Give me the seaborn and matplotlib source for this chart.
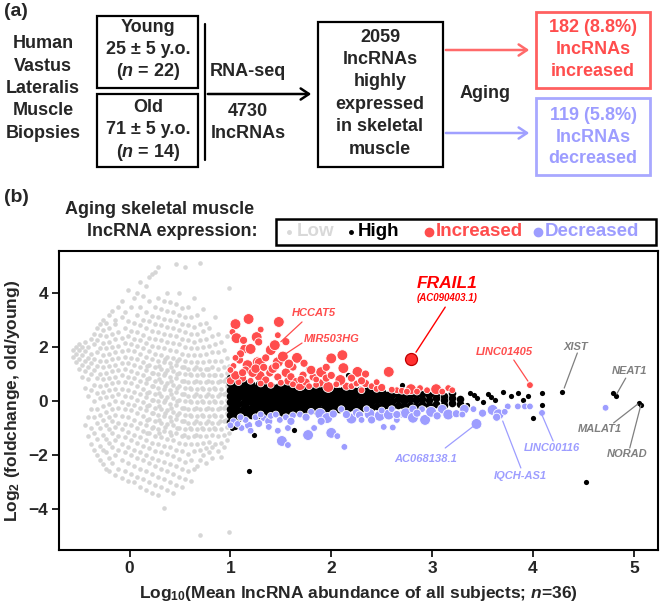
import numpy as np
import pandas as pd
import seaborn as sns
import matplotlib.pyplot as plt
from matplotlib.patches import Rectangle, FancyArrowPatch
from matplotlib.lines import Line2D

W, H = 661, 611

# ---- data ----
# low-expression lncRNAs, one x per column with the y values seen there
low_cols_x = [-0.56, -0.53, -0.50, -0.47, -0.44, -0.41, -0.38, -0.35, -0.32, -0.29,
              -0.26, -0.23, -0.20, -0.17, -0.14, -0.11, -0.08, -0.05, -0.02, 0.01,
              0.04, 0.07, 0.10, 0.13, 0.16, 0.19, 0.22, 0.25, 0.28, 0.31,
              0.34, 0.37, 0.40, 0.43, 0.46, 0.49, 0.52, 0.55, 0.58, 0.61,
              0.64, 0.67, 0.70, 0.73, 0.76, 0.79, 0.82, 0.85, 0.88, 0.91,
              0.94, 0.97, 0.99,
              # denser core of the cloud
              0.175, 0.235, 0.295, 0.355, 0.415, 0.475, 0.535, 0.595, 0.655,
              0.715, 0.775, 0.835, 0.895, 0.955]
low_cols_y = [
    [1.62, 1.88], [1.45, 1.75, 2.02], [1.2, 1.55, 1.9, 2.1], [0.9, 1.35, 1.7, 2.0],
    [-0.9, 0.5, 1.1, 1.5, 1.85, 2.2],
    [-1.3, -0.6, 0.2, 0.8, 1.25, 1.6, 2.0],
    [-1.6, -1.0, -0.3, 0.4, 1.0, 1.4, 1.75, 2.3],
    [-1.8, -1.2, -0.6, 0.0, 0.6, 1.15, 1.55, 2.1, 2.5],
    [-2.0, -1.4, -0.8, -0.3, 0.3, 0.85, 1.3, 1.8, 2.25, 2.7],
    [-2.2, -1.65, -1.0, -0.5, 0.1, 0.55, 1.0, 1.5, 1.95, 2.45, 2.85],
    [-2.35, -1.8, -1.25, -0.7, -0.2, 0.35, 0.8, 1.25, 1.7, 2.15, 2.65, 3.0],
    [-2.5, -1.9, -1.4, -0.9, -0.4, 0.15, 0.6, 1.05, 1.5, 1.95, 2.4, 2.9],
    [-2.6, -2.1, -1.55, -1.05, -0.6, -0.1, 0.4, 0.85, 1.3, 1.75, 2.2, 2.7, 3.2],
    [-2.3, -1.7, -1.2, -0.75, -0.3, 0.2, 0.65, 1.1, 1.55, 2.0, 2.5, 3.35],
    [-2.75, -2.0, -1.45, -0.95, -0.5, 0.0, 0.45, 0.9, 1.35, 1.8, 2.3, 2.85, 3.0],
    [-2.5, -1.8, -1.3, -0.8, -0.25, 0.25, 0.7, 1.15, 1.6, 2.05, 2.55, 3.5],
    [-2.85, -2.2, -1.6, -1.05, -0.55, -0.05, 0.45, 0.95, 1.4, 1.85, 2.35, 3.1, 3.7],
    [-2.6, -1.9, -1.35, -0.85, -0.3, 0.2, 0.7, 1.2, 1.65, 2.15, 2.7, 3.3],
    [-2.95, -2.3, -1.7, -1.15, -0.6, -0.1, 0.4, 0.9, 1.4, 1.9, 2.4, 2.95, 4.1],
    [-2.7, -2.0, -1.45, -0.9, -0.35, 0.15, 0.65, 1.1, 1.6, 2.1, 2.6, 3.5],
    [-3.0, -2.4, -1.8, -1.25, -0.7, -0.15, 0.35, 0.85, 1.35, 1.85, 2.3, 2.9, 3.8],
    [-2.8, -2.1, -1.55, -1.0, -0.45, 0.05, 0.55, 1.05, 1.55, 2.05, 2.55, 3.2, 4.0],
    [-3.2, -2.5, -1.9, -1.35, -0.8, -0.25, 0.25, 0.75, 1.25, 1.75, 2.25, 2.8, 3.5, 4.4],
    [-2.9, -2.2, -1.65, -1.1, -0.55, -0.05, 0.45, 0.95, 1.45, 1.95, 2.45, 3.0, 3.9],
    [-3.3, -2.6, -2.0, -1.45, -0.9, -0.35, 0.15, 0.65, 1.15, 1.65, 2.15, 2.7, 3.3, 4.25],
    [-3.0, -2.3, -1.75, -1.2, -0.65, -0.15, 0.35, 0.85, 1.35, 1.85, 2.35, 2.95, 3.7, 4.6],
    [-3.4, -2.7, -2.1, -1.55, -1.0, -0.45, 0.05, 0.55, 1.05, 1.55, 2.05, 2.6, 3.15, 4.7],
    [-3.1, -2.4, -1.85, -1.3, -0.75, -0.25, 0.25, 0.75, 1.25, 1.75, 2.3, 2.85, 3.5, 4.8],
    [-3.5, -2.8, -2.2, -1.6, -1.05, -0.5, 0.0, 0.5, 1.0, 1.5, 2.0, 2.55, 3.1, 3.8, 4.95],
    [-3.2, -2.5, -1.9, -1.35, -0.8, -0.3, 0.2, 0.7, 1.2, 1.7, 2.25, 2.8, 3.4],
    [-3.95, -2.9, -2.25, -1.65, -1.1, -0.55, -0.05, 0.45, 0.95, 1.45, 1.95, 2.5, 3.05, 3.7],
    [-3.3, -2.6, -1.95, -1.4, -0.85, -0.35, 0.15, 0.65, 1.15, 1.65, 2.2, 2.75, 3.35, 4.0],
    [-3.0, -2.35, -1.7, -1.15, -0.6, -0.1, 0.4, 0.9, 1.4, 1.9, 2.45, 3.0, 3.67],
    [-3.4, -2.7, -2.05, -1.45, -0.9, -0.4, 0.1, 0.6, 1.1, 1.6, 2.15, 2.7, 3.3],
    [-3.1, -2.4, -1.8, -1.2, -0.65, -0.15, 0.35, 0.85, 1.35, 1.85, 2.4, 2.95, 3.6, 5.07],
    [-2.8, -2.15, -1.55, -1.0, -0.45, 0.05, 0.55, 1.05, 1.55, 2.1, 2.65, 3.2, 4.0],
    [-3.2, -2.5, -1.85, -1.3, -0.75, -0.25, 0.25, 0.75, 1.25, 1.75, 2.3, 2.85, 3.45],
    [-2.9, -2.25, -1.6, -1.05, -0.5, 0.0, 0.5, 1.0, 1.5, 2.0, 2.55, 3.1, 4.96],
    [-2.6, -1.95, -1.35, -0.8, -0.3, 0.2, 0.7, 1.2, 1.7, 2.25, 2.8, 3.5],
    [-2.95, -2.2, -1.6, -1.05, -0.55, -0.05, 0.45, 0.95, 1.45, 1.95, 2.5, 3.1],
    [-2.5, -1.85, -1.3, -0.8, -0.3, 0.2, 0.7, 1.2, 1.7, 2.2, 2.75, 3.8],
    [-2.4, -1.6, -1.05, -0.55, -0.05, 0.45, 0.95, 1.45, 1.95, 2.5, 3.2],
    [-4.96, -2.2, -1.8, -1.3, -0.8, -0.3, 0.2, 0.7, 1.2, 1.7, 2.25, 2.85, 5.11],
    [-2.0, -1.55, -1.05, -0.55, -0.05, 0.45, 0.95, 1.45, 2.0, 2.6, 3.4],
    [-2.3, -1.75, -1.3, -0.8, -0.3, 0.2, 0.7, 1.2, 1.75, 2.3, 2.9],
    [-1.9, -1.5, -1.05, -0.55, -0.05, 0.45, 0.95, 1.5, 2.05, 2.7],
    [-2.1, -1.7, -1.25, -0.8, -0.3, 0.2, 0.7, 1.25, 1.8, 2.4],
    [-1.6, -1.05, -0.55, -0.05, 0.45, 0.95, 1.5, 2.1, 3.1],
    [-1.85, -1.3, -0.8, -0.3, 0.2, 0.7, 1.2, 1.8, 2.5],
    [-2.07, -1.55, -1.05, -0.55, -0.05, 0.45, 0.95, 1.5, 2.2],
    [-1.7, -1.25, -0.75, -0.25, 0.25, 0.75, 1.25, 1.9],
    [-1.45, -0.95, -0.45, 0.05, 0.55, 1.05, 1.6, 2.4],
    [-4.85, -1.2, -0.7, -0.2, 0.3, 0.8, 1.3, 4.2],
    [-1.2, -0.7, -0.2, 0.3, 0.8, 1.3],
    [-0.95, -0.45, 0.05, 0.55, 1.05],
    [-1.2, -0.7, -0.2, 0.3, 0.8, 1.3],
    [-0.95, -0.45, 0.05, 0.55, 1.05, 1.55],
    [-1.25, -0.75, -0.25, 0.25, 0.75, 1.25],
    [-1.0, -0.5, 0.0, 0.5, 1.0, 1.5],
    [-1.25, -0.75, -0.25, 0.25, 0.75, 1.25],
    [-1.0, -0.5, 0.0, 0.5, 1.0],
    [-1.25, -0.75, -0.25, 0.25, 0.75, 1.25],
    [-1.0, -0.5, 0.0, 0.5, 1.0],
    [-0.75, -0.25, 0.25, 0.75, 1.2],
    [-1.0, -0.5, 0.0, 0.5, 0.95],
    [-0.75, -0.25, 0.25, 0.75],
    [-0.7, -0.2, 0.3, 0.8],
]

# highly expressed lncRNAs (dense band), same column layout
high_cols_x = [1.00, 1.04, 1.08, 1.12, 1.16, 1.20, 1.24, 1.28, 1.32, 1.36,
               1.40, 1.44, 1.48, 1.52, 1.56, 1.60, 1.64, 1.68, 1.72, 1.76,
               1.80, 1.84, 1.88, 1.92, 1.96, 2.00, 2.04, 2.08, 2.12, 2.16,
               2.20, 2.24, 2.28, 2.32, 2.36, 2.40, 2.45, 2.50, 2.55, 2.60,
               2.66, 2.72, 2.78, 2.84, 2.90, 2.97, 3.04, 3.12, 3.20, 3.28]
high_cols_y = [
    [-0.78, -0.52, -0.28, -0.05, 0.18, 0.42, 0.65, 0.84],
    [-0.70, -0.45, -0.20, 0.03, 0.27, 0.50, 0.74],
    [-0.62, -0.38, -0.12, 0.10, 0.34, 0.57, 0.78],
    [-0.55, -0.30, -0.06, 0.18, 0.40, 0.62],
    [-0.48, -0.24, 0.00, 0.22, 0.46, 0.68],
    [-0.52, -0.28, -0.04, 0.19, 0.42, 0.63],
    [-0.44, -0.20, 0.04, 0.27, 0.50],
    [-0.50, -0.26, -0.02, 0.21, 0.44, 0.62],
    [-0.42, -0.17, 0.07, 0.30, 0.53],
    [-0.47, -0.23, 0.00, 0.24, 0.47, 0.64],
    [-0.40, -0.15, 0.09, 0.32, 0.55],
    [-0.45, -0.21, 0.03, 0.26, 0.48],
    [-0.38, -0.13, 0.11, 0.34, 0.56],
    [-0.43, -0.19, 0.05, 0.28, 0.50],
    [-0.36, -0.11, 0.13, 0.36, 0.57],
    [-0.41, -0.17, 0.07, 0.30, 0.51],
    [-0.34, -0.09, 0.15, 0.38],
    [-0.39, -0.15, 0.09, 0.31, 0.50],
    [-0.32, -0.08, 0.16, 0.38],
    [-0.37, -0.13, 0.10, 0.32, 0.52],
    [-0.30, -0.06, 0.18, 0.40],
    [-0.35, -0.11, 0.12, 0.34, 0.50],
    [-0.28, -0.04, 0.19, 0.40],
    [-0.33, -0.09, 0.14, 0.35, 0.48],
    [-0.27, -0.03, 0.20, 0.40],
    [-0.31, -0.07, 0.15, 0.36],
    [-0.25, -0.01, 0.21, 0.42],
    [-0.30, -0.06, 0.16, 0.36],
    [-0.23, 0.00, 0.22, 0.42],
    [-0.28, -0.05, 0.17, 0.37],
    [-0.22, 0.01, 0.23, 0.42],
    [-0.26, -0.03, 0.18, 0.37],
    [-0.20, 0.02, 0.24, 0.41],
    [-0.25, -0.02, 0.19, 0.36],
    [-0.19, 0.03, 0.24, 0.40],
    [-0.23, -0.01, 0.20, 0.35],
    [-0.18, 0.04, 0.25, 0.38],
    [-0.22, 0.00, 0.20, 0.34],
    [-0.16, 0.05, 0.24],
    [-0.20, 0.01, 0.21, 0.33],
    [-0.15, 0.06, 0.25],
    [-0.19, 0.02, 0.20],
    [-0.13, 0.07, 0.26],
    [-0.17, 0.03, 0.21],
    [-0.12, 0.08, 0.25],
    [-0.16, 0.04, 0.22],
    [-0.10, 0.10, 0.27],
    [-0.14, 0.05, 0.20],
    [-0.08, 0.12, 0.28],
    [-0.12, 0.06],
]
# scattered high-expression points outside the band
high_x = [3.38, 3.45, 3.50, 3.55, 3.62, 3.70, 3.78, 3.85, 3.90, 3.95, 3.35, 3.42,
          3.58, 4.09, 4.09, 4.00, 4.29, 4.79, 4.82, 5.05, 5.07, 4.53, 2.70, 1.18,
          1.23, 1.77, 2.19, 2.17, 1.02, 1.63, 1.05, 1.35, 1.95, 2.50]
high_y = [0.30, 0.10, -0.05, 0.25, 0.05, 0.32, 0.18, 0.28, 0.05, 0.20, -0.15, 0.22,
          0.15, 0.30, -0.15, -0.63, 0.35, 0.30, 0.19, -0.07, -0.15, -3.00, 0.60, -2.60,
          -1.26, 1.20, 0.93, 0.97, -1.00, -1.07, -0.95, 0.85, 0.75, 0.55]

# increased with aging (d = dot diameter class)
inc_x = [1.05, 1.18, 1.02, 1.48, 1.47, 1.26, 1.28, 1.06, 1.14, 1.20, 1.40, 1.44,
         1.47, 1.27, 1.66, 1.73, 2.00, 2.11, 2.12, 2.26, 2.34, 1.62, 1.90, 1.82,
         1.72, 1.29, 1.17, 1.09, 1.03, 1.03, 1.29, 1.39, 1.47, 1.57, 1.69, 1.75,
         1.89, 1.97, 2.10, 2.15, 2.20, 2.09, 2.25, 2.34, 2.57, 2.79, 2.88, 3.04,
         3.16, 3.97, 2.65, 2.70, 2.60, 1.10, 1.05, 1.15, 1.22, 1.12, 1.35, 1.42,
         1.55, 1.60, 1.80, 1.52, 1.35, 1.20, 1.08, 1.50, 1.65, 1.95, 2.05, 2.40,
         2.45, 2.50, 2.30, 2.85, 2.95, 3.10, 3.20, 2.75, 1.30, 1.78, 1.85, 1.13,
         1.00, 1.05, 1.12, 1.25, 1.33, 1.45, 1.58, 1.40, 1.62, 1.70, 1.85, 2.00,
         2.20, 2.30, 2.45, 1.00, 1.95, 1.55, 1.30]
inc_y = [2.85, 3.04, 2.56, 2.93, 2.44, 2.37, 2.19, 2.33, 1.93, 1.93, 1.89, 2.07,
         1.44, 1.44, 1.60, 1.40, 1.58, 1.70, 1.22, 1.08, 1.00, 1.26, 1.07, 0.89,
         0.96, 1.41, 1.33, 1.52, 1.30, 1.00, 0.93, 1.04, 0.89, 0.74, 0.59, 0.70,
         0.67, 0.52, 0.70, 0.55, 0.55, 0.78, 0.65, 0.65, 1.08, 0.44, 0.48, 0.44,
         0.48, 0.59, 0.40, 0.38, 0.42, 1.75, 1.60, 1.15, 1.05, 0.85, 0.78, 1.20,
         1.05, 0.90, 1.15, 1.65, 1.60, 0.75, 0.70, 0.68, 0.75, 0.85, 0.62, 0.55,
         0.45, 0.50, 0.40, 0.35, 0.40, 0.35, 0.40, 0.35, 0.65, 0.55, 0.60, 2.25,
         0.75, 0.95, 1.05, 1.20, 1.25, 1.30, 1.38, 0.60, 0.62, 0.80, 0.80, 0.95,
         0.85, 0.75, 0.70, 1.15, 1.25, 2.20, 2.65]
inc_d = [8, 8, 5, 8, 5, 8, 6, 8, 7, 8, 8, 8,
         8, 8, 8, 6, 8, 8, 8, 8, 6, 6, 8, 6,
         6, 8, 8, 6, 5, 5, 8, 6, 6, 6, 8, 6,
         6, 8, 6, 6, 5, 8, 5, 6, 8, 8, 5, 8,
         5, 5, 5, 5, 5, 6, 5, 6, 7, 6, 6, 7,
         7, 6, 7, 8, 6, 5, 5, 5, 5, 6, 5, 5,
         5, 6, 5, 5, 5, 5, 5, 5, 5, 5, 5, 6,
         6, 7, 6, 7, 6, 6, 7, 5, 5, 6, 5, 6,
         6, 6, 5, 5, 6, 6, 5]

# decreased with aging
dec_x = [1.11, 1.18, 1.20, 1.28, 1.33, 1.38, 1.49, 1.62, 1.69, 1.89, 1.96, 2.02,
         2.10, 2.20, 2.25, 1.38, 1.47, 1.57, 1.51, 1.57, 1.77, 1.83, 2.00, 2.06,
         2.13, 1.03, 1.07, 2.28, 2.38, 2.48, 2.57, 2.70, 2.74, 2.81, 2.81, 2.93,
         2.99, 3.10, 3.16, 3.24, 3.32, 3.41, 3.60, 3.66, 3.64, 3.75, 3.85, 3.92,
         3.97, 4.09, 4.72, 3.44, 2.52, 2.61, 1.40, 1.55, 1.75, 1.80, 2.35, 2.40,
         2.60, 2.90, 1.25, 1.15, 2.65,
         1.00, 1.10, 1.30, 1.45, 1.60, 1.90, 2.15, 2.30, 2.50, 2.65, 2.85, 3.05,
         3.30, 3.50, 3.72]
dec_y = [-1.00, -0.90, -1.10, -0.83, -0.63, -0.75, -0.70, -0.53, -0.50, -0.47, -0.63, -0.48,
         -0.30, -0.65, -0.43, -0.96, -1.10, -1.00, -1.48, -1.63, -1.26, -1.00, -1.18, -1.30,
         -1.70, -0.75, -0.85, -0.52, -0.48, -0.55, -0.50, -0.48, -0.45, -0.30, -0.62, -0.70,
         -0.40, -0.30, -0.50, -0.47, -0.30, -0.30, -0.33, -0.49, -0.60, -0.20, -0.20, -0.20,
         -0.20, -0.44, -0.25, -0.85, -0.96, -0.98, -0.55, -0.60, -0.60, -0.40, -0.30, -0.70,
         -0.30, -0.30, -0.60, -0.70, -0.70,
         -0.90, -0.60, -0.50, -0.50, -0.75, -0.75, -0.50, -0.70, -0.35, -0.50, -0.45, -0.55,
         -0.50, -0.45, -0.40]
dec_d = [5, 6, 5, 6, 5, 6, 5, 5, 5, 8, 8, 6,
         5, 8, 6, 5, 5, 5, 8, 5, 8, 5, 8, 5,
         5, 5, 5, 6, 8, 8, 8, 6, 8, 6, 8, 8,
         8, 7, 8, 6, 7, 5, 8, 8, 6, 5, 5, 5,
         5, 5, 5, 8, 5, 5, 5, 5, 6, 5, 5, 6,
         5, 5, 5, 5, 5,
         5, 5, 5, 5, 6, 6, 6, 5, 5, 6, 6, 6,
         5, 6, 5]

frail_x, frail_y = [2.79], [1.55]

# labelled genes: name, text x, text y, line start, line end, colour
labels = [
    ("HCCAT5",     1.83, 3.26, (1.71, 2.93), (1.50, 2.20), "red"),
    ("MIR503HG",   2.00, 2.30, (1.71, 2.15), (1.48, 1.58), "red"),
    ("LINC01405",  3.72, 1.81, (3.81, 1.52), (3.95, 0.74), "red"),
    ("XIST",       4.43, 2.00, (4.44, 1.78), (4.31, 0.48), "gray"),
    ("NEAT1",      4.96, 1.11, (4.92, 0.85), (4.83, 0.26), "gray"),
    ("MALAT1",     4.66, -1.04, (4.80, -0.81), (5.04, -0.11), "gray"),
    ("NORAD",      4.93, -1.96, (4.96, -1.74), (5.07, -0.15), "gray"),
    ("LINC00116",  4.19, -1.74, (4.20, -1.48), (4.09, -0.52), "blue"),
    ("IQCH-AS1",   3.88, -2.78, (3.88, -2.48), (3.70, -0.74), "blue"),
    ("AC068138.1", 2.94, -2.15, (3.13, -1.74), (3.40, -0.96), "blue"),
]

RED = "#ff4d4d"
BLUE = "#9d9dff"
GRAY_PT = "#d6d6d6"
LBL = {"red": "#ff4d4d", "blue": "#9d9dff", "gray": "#7f7f7f"}

# ---- style ----
sns.set_style("white")
plt.rcParams['font.family'] = ['Liberation Sans', 'DejaVu Sans']
plt.rcParams['font.weight'] = 'bold'
plt.rcParams['mathtext.fontset'] = 'custom'
plt.rcParams['mathtext.rm'] = 'Liberation Sans:bold'
plt.rcParams['mathtext.it'] = 'Liberation Sans:italic:bold'
plt.rcParams['mathtext.bf'] = 'Liberation Sans:bold'

fig = plt.figure(figsize=(W / 100, H / 100), dpi=100)


def P(px, py):
    return px / W, 1 - py / H


def ftext(px, py, s, **kw):
    kw.setdefault('ha', 'center')
    kw.setdefault('va', 'center')
    kw.setdefault('fontsize', 13)
    kw.setdefault('fontweight', 'bold')
    fig.text(*P(px, py), s, **kw)


def fbox(x0, y0, x1, y1, color='black', lw=1.6):
    fig.add_artist(Rectangle(P(x0, y1), (x1 - x0) / W, (y1 - y0) / H,
                             transform=fig.transFigure, fill=False,
                             edgecolor=color, linewidth=lw))


def farrow(x0, y0, x1, y1, color):
    fig.add_artist(FancyArrowPatch(P(x0, y0), P(x1, y1), transform=fig.transFigure,
                                   arrowstyle='->,head_length=6,head_width=4',
                                   color=color, linewidth=1.8, mutation_scale=1))


# ---- panel (a): flow diagram ----
ftext(4, 12, "(a)", ha='left', fontsize=14)
for i, w in enumerate(["Human", "Vastus", "Lateralis", "Muscle", "Biopsies"]):
    ftext(43, 44 + 22.3 * i, w)
fbox(97, 16, 198, 88)
fbox(97, 94, 198, 167)
for i, w in enumerate(["Young", "25 ± 5 y.o.", "($n$ = 22)"]):
    ftext(148, 28 + 22 * i, w)
for i, w in enumerate(["Old", "71 ± 5 y.o.", "($n$ = 14)"]):
    ftext(148, 107 + 22.5 * i, w)
fig.add_artist(Line2D([P(205, 0)[0]] * 2, [P(0, 24)[1], P(0, 160)[1]],
                      transform=fig.transFigure, color='black', linewidth=1.6))
farrow(205, 94, 314, 94, 'black')
ftext(248, 72, "RNA-seq")
ftext(248, 111, "4730")
ftext(248, 133, "lncRNAs")
fbox(318, 22, 443, 167)
for i, w in enumerate(["2059", "lncRNAs", "highly", "expressed", "in skeletal", "muscle"]):
    ftext(380, 37 + 22.4 * i, w)
farrow(443, 50, 532, 50, '#ff6a6a')
farrow(443, 133, 532, 133, '#a0a0ff')
ftext(485, 93, "Aging")
fbox(536, 12, 650, 88, color='#ff6060', lw=2)
for i, w in enumerate(["182 (8.8%)", "lncRNAs", "increased"]):
    ftext(593, 28 + 22 * i, w, color=RED)
fbox(536, 98, 650, 175, color='#a8a8ff', lw=2)
for i, w in enumerate(["119 (5.8%)", "lncRNAs", "decreased"]):
    ftext(593, 115 + 22 * i, w, color=BLUE)

# ---- panel (b) header + legend ----
ftext(4, 198, "(b)", ha='left', fontsize=14)
ftext(160, 210, "Aging skeletal muscle")
ftext(258, 232, "lncRNA expression:", ha='right')
fbox(276, 219, 656, 245, lw=1.8)
leg = [(289, 297, "Low", "#d9d9d9", 2.5), (351, 358, "High", "black", 2.5),
       (429, 436, "Increased", RED, 6), (538, 545, "Decreased", BLUE, 6)]
for mx, tx, name, col, ms in leg:
    fig.add_artist(Line2D([P(mx, 0)[0]], [P(0, 232)[1]], transform=fig.transFigure,
                          marker='o', markersize=ms, color=col, linestyle='none'))
    ftext(tx, 232, name, ha='left', color=col, fontsize=13.5)

# ---- panel (b) scatter ----
ax = fig.add_axes([59 / W, 1 - 550 / H, (658 - 59) / W, (550 - 251) / H])

low = pd.DataFrame([(x, y) for x, ys in zip(low_cols_x, low_cols_y) for y in ys],
                   columns=['x', 'y'])
band = pd.DataFrame([(x, y) for x, ys in zip(high_cols_x, high_cols_y) for y in ys],
                    columns=['x', 'y'])
high = pd.DataFrame({'x': high_x, 'y': high_y})
inc = pd.DataFrame({'x': inc_x, 'y': inc_y, 'd': inc_d})
dec = pd.DataFrame({'x': dec_x, 'y': dec_y, 'd': dec_d})
# dot diameter class (px) -> marker area (pt^2)
size_map = {d: (0.72 * 1.35 * d) ** 2 for d in range(4, 11)}

sns.scatterplot(data=low, x='x', y='y', color=GRAY_PT, s=11, linewidth=0, ax=ax, zorder=1)
sns.scatterplot(data=band, x='x', y='y', color='black', s=30, linewidth=0, ax=ax, zorder=2)
sns.scatterplot(data=high, x='x', y='y', color='black', s=14, linewidth=0, ax=ax, zorder=2)
sns.scatterplot(data=dec, x='x', y='y', size='d', sizes=size_map, color=BLUE,
                edgecolor='white', linewidth=0.6, legend=False, ax=ax, zorder=3)
sns.scatterplot(data=inc, x='x', y='y', size='d', sizes=size_map, color=RED,
                edgecolor='white', linewidth=0.6, legend=False, ax=ax, zorder=4)
sns.scatterplot(x=frail_x, y=frail_y, color='#ff3030', s=(0.72 * 12) ** 2,
                edgecolor='#c00000', linewidth=0.9, ax=ax, zorder=5)

for name, tx, ty, (x0, y0), (x1, y1), col in labels:
    ax.plot([x0, x1], [y0, y1], color=LBL[col], linewidth=0.9, zorder=6)
    ax.text(tx, ty, name, color=LBL[col], fontsize=8, fontstyle='italic',
            fontweight='bold', ha='center', va='center', zorder=7)
ax.plot([3.13, 2.84], [3.48, 1.81], color='red', linewidth=1.0, zorder=6)
ax.text(3.15, 4.37, "FRAIL1", color='red', fontsize=12.5, fontstyle='italic',
        fontweight='bold', ha='center', va='center')
ax.text(3.15, 3.8, "(AC090403.1)", color='red', fontsize=7, fontstyle='italic',
        fontweight='bold', ha='center', va='center')

ax.set_xlim(-0.7, 5.24)
ax.set_ylim(-5.52, 5.56)
ax.set_xticks([0, 1, 2, 3, 4, 5])
ax.set_yticks([-4, -2, 0, 2, 4])
ax.tick_params(axis='both', direction='out', length=5, width=1.4, labelsize=12.5,
               left=True, bottom=True, pad=3)
for lab in ax.get_xticklabels() + ax.get_yticklabels():
    lab.set_fontweight('bold')
for sp in ax.spines.values():
    sp.set_linewidth(1.5)
    sp.set_color('black')
ax.set_xlabel("Log$_{10}$(Mean lncRNA abundance of all subjects; $n$=36)",
              fontsize=12.5, fontweight='bold', labelpad=6)
ax.set_ylabel("Log$_2$ (foldchange, old/young)", fontsize=12.5, fontweight='bold',
              labelpad=4)

fig.savefig("out.png", dpi=100)
